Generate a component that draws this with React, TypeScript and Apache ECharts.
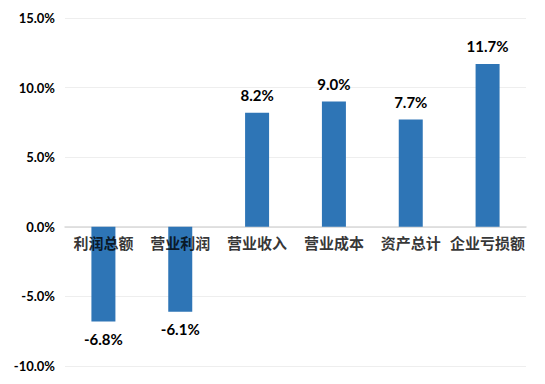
import React, { useEffect, useRef } from "react";
import * as echarts from "echarts";

const categories = ["利润总额", "营业利润", "营业收入", "营业成本", "资产总计", "企业亏损额"];
const values = [-6.8, -6.1, 8.2, 9.0, 7.7, 11.7];

export default function App() {
  const ref = useRef<HTMLDivElement>(null);
  useEffect(() => {
    const chart = echarts.init(ref.current!, null, { renderer: "svg" });
    chart.setOption({
      animation: false,
      grid: { left: 65, right: 19, top: 18, bottom: 18, containLabel: false, outerBoundsMode: "none" },
      xAxis: {
        type: "category",
        data: categories,
        axisLine: { onZero: true, lineStyle: { color: "#d9d9d9", width: 1.5 } },
        axisTick: { show: false },
        axisLabel: { show: false },
      },
      yAxis: {
        type: "value",
        min: -10,
        max: 15,
        interval: 5,
        axisLine: { show: false },
        axisTick: { show: false },
        splitLine: { lineStyle: { color: "#eeeeee", width: 1 } },
        axisLabel: {
          formatter: (v: number) => v.toFixed(1) + "%",
          color: "#000",
          fontWeight: "bold",
          fontSize: 13,
          fontFamily: "Lato",
          margin: 10,
        },
      },
      series: [
        {
          type: "bar",
          data: values.map((v) => ({
            value: v,
            label: { position: v < 0 ? "bottom" : "top" },
          })),
          barWidth: 24,
          itemStyle: { color: "#2e75b6" },
          label: {
            show: true,
            distance: 10,
            formatter: (p: any) => p.value.toFixed(1) + "%",
            color: "#000",
            fontWeight: "bold",
            fontSize: 15,
            fontFamily: "Lato",
          },
        },
        {
          type: "scatter",
          data: categories.map(() => 0),
          symbolSize: 0,
          silent: true,
          z: 5,
          label: {
            show: true,
            position: "bottom",
            distance: 8,
            formatter: (p: any) => categories[p.dataIndex],
            color: "#000",
            fontWeight: "bold",
            fontSize: 15,
            fontFamily: "Noto Sans CJK SC",
          },
        },
      ],
    });
    return () => chart.dispose();
  }, []);
  return <div ref={ref} style={{ width: 545, height: 384, position: "absolute", left: 0, top: 0 }} />;
}
